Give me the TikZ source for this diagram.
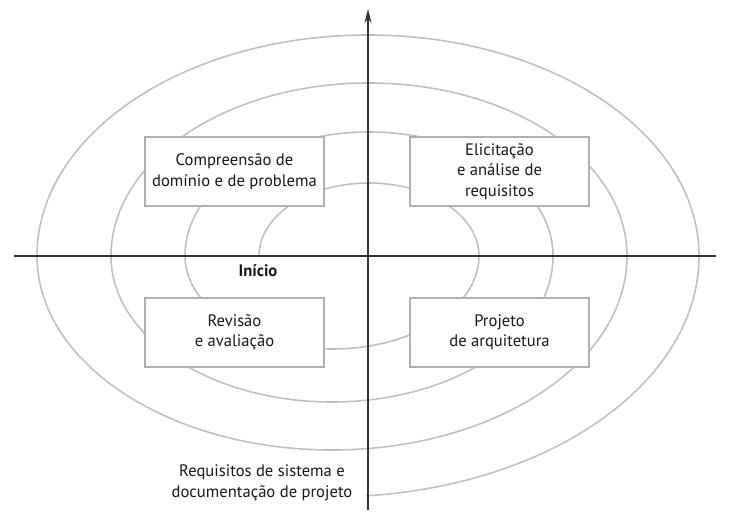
\documentclass[tikz,border=0pt]{standalone}
\usepackage{fontspec}
\setmainfont{PT Sans}
\usetikzlibrary{arrows.meta}
\definecolor{arcgray}{HTML}{C0C0C0}
\definecolor{boxgray}{HTML}{B0B0B0}
\definecolor{axisgray}{HTML}{333333}
\definecolor{txt}{HTML}{1A1718}
\tikzset{
  spiral/.style={draw=arcgray, line width=1.6pt},
  axisline/.style={draw=axisgray, line width=1.2pt},
  stagebox/.style={draw=boxgray, line width=1.4pt, fill=white, minimum width=179pt, minimum height=69pt, align=center, inner sep=0pt, text=txt, font=\fontsize{16.6}{20.5}\selectfont},
  plainlabel/.style={align=center, inner sep=0pt, text=txt, font=\fontsize{16.6}{20.5}\selectfont}
}
\begin{document}
\begin{tikzpicture}[x=1pt,y=1pt]
\useasboundingbox (0,0) rectangle (731,520);
% spiral
\coordinate (s0) at (259,264);
\draw[spiral] (s0)
  arc[start angle=180, end angle=0, x radius=110, y radius=73]
  arc[start angle=0, end angle=-180, x radius=147, y radius=93]
  arc[start angle=180, end angle=0, x radius=184, y radius=124]
  arc[start angle=0, end angle=-180, x radius=221, y radius=146]
  arc[start angle=180, end angle=0, x radius=258, y radius=173]
  arc[start angle=0, end angle=-180, x radius=295, y radius=194]
  arc[start angle=180, end angle=0, x radius=331, y radius=221]
  arc[start angle=0, end angle=-84.5, x radius=368, y radius=241];
% axes
\coordinate (vb) at (368,10);
\coordinate (vt) at (368,511);
\coordinate (hl) at (14,264);
\coordinate (hr) at (716,264);
\draw[axisline] (hl) -- (hr);
\draw[axisline, -{Stealth[length=14pt,width=7pt]}] (vb) -- (vt);
% boxes
\node[stagebox] (dom) at (234.5,348.5) {Compreensão de\\domínio e de problema};
\node[stagebox] (eli) at (499.5,348.5) {Elicitação\\e análise de\\requisitos};
\node[stagebox] (rev) at (234.5,187.5) {Revisão\\e avaliação};
\node[stagebox] (proj) at (499.5,187.5) {Projeto\\de arquitetura};
% labels
\node[plainlabel, font=\fontsize{16.6}{20.5}\selectfont\bfseries] (ini) at (258,249) {Início};
\node[plainlabel] (req) at (262,37) {Requisitos de sistema e\\documentação de projeto};
\end{tikzpicture}
\end{document}
